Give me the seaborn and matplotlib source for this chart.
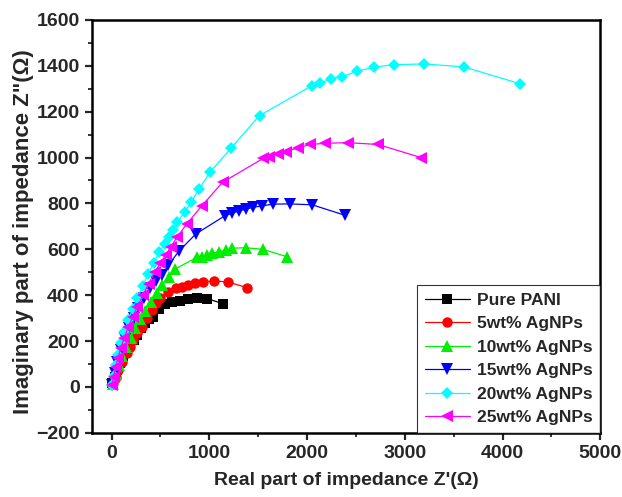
import matplotlib
matplotlib.use("Agg")
import matplotlib.pyplot as plt
import seaborn as sns
from matplotlib.ticker import MultipleLocator

sns.set_style("ticks")
plt.rcParams['font.family'] = ['Liberation Sans', 'DejaVu Sans']
plt.rcParams['font.weight'] = 'bold'

labels = ["Pure PANI", "5wt% AgNPs", "10wt% AgNPs", "15wt% AgNPs", "20wt% AgNPs", "25wt% AgNPs"]

pani_x = [2, 30, 53, 85, 121, 155, 189, 225, 264, 300, 343, 380, 422, 480, 548, 616, 701, 786, 872, 981, 1145]
pani_y = [16, 45, 74, 105, 132, 158, 183, 205, 227, 255, 280, 295, 307, 340, 361, 369, 375, 382, 387, 385, 362]

ag5_x = [18, 45, 70, 110, 156, 190, 223, 265, 309, 360, 412, 455, 497, 580, 661, 719, 786, 855, 940, 1050, 1190, 1384]
ag5_y = [16, 45, 74, 110, 147, 175, 205, 235, 263, 300, 336, 365, 389, 415, 430, 437, 445, 452, 459, 462, 458, 433]

ag10_x = [10, 40, 75, 110, 150, 195, 240, 290, 340, 400, 460, 520, 585, 650, 872, 924, 981, 1032, 1104, 1169, 1237, 1374, 1545, 1794]
ag10_y = [15, 55, 95, 135, 175, 215, 255, 295, 330, 370, 410, 445, 480, 514, 565, 568, 576, 583, 590, 597, 605, 607, 600, 568]

ag15_x = [5, 30, 60, 95, 135, 180, 225, 275, 330, 390, 450, 514, 582, 691, 862, 1162, 1231, 1299, 1374, 1446, 1534, 1650, 1828, 2053, 2384]
ag15_y = [10, 60, 110, 160, 210, 255, 300, 345, 390, 430, 460, 488, 532, 593, 667, 747, 757, 767, 775, 783, 789, 797, 798, 794, 749]

ag20_x = [5, 20, 40, 65, 95, 130, 170, 215, 265, 320, 370, 430, 490, 545, 589, 627, 674, 749, 811, 896, 1009, 1220, 1514, 2053, 2135, 2248, 2360, 2514, 2688, 2893, 3200, 3606, 4183]
ag20_y = [10, 50, 95, 140, 190, 240, 290, 340, 390, 440, 491, 540, 590, 625, 653, 685, 721, 762, 805, 863, 937, 1040, 1183, 1314, 1324, 1344, 1353, 1376, 1394, 1405, 1408, 1395, 1321]

ag25_x = [5, 20, 40, 65, 95, 130, 170, 215, 265, 320, 380, 445, 497, 555, 606, 674, 770, 924, 1135, 1554, 1613, 1698, 1780, 1903, 2033, 2186, 2415, 2726, 3166]
ag25_y = [10, 45, 85, 125, 170, 215, 260, 305, 350, 400, 450, 503, 539, 576, 612, 655, 711, 790, 892, 997, 1003, 1016, 1026, 1042, 1057, 1062, 1065, 1057, 1000]

series_x = [pani_x, ag5_x, ag10_x, ag15_x, ag20_x, ag25_x]
series_y = [pani_y, ag5_y, ag10_y, ag15_y, ag20_y, ag25_y]
colors = ["#000000", "#ff0000", "#00ee00", "#0000ff", "#00ffff", "#ff00ff"]
markers = ["s", "o", "^", "v", "D", "<"]
msizes = [6.5, 7.5, 8, 8, 6.5, 8]

fig = plt.figure(figsize=(6.22, 4.97), dpi=100)
ax = fig.add_axes([0.148, 0.129, 0.817, 0.831])

for xs, ys, c, m, ms, lab in zip(series_x, series_y, colors, markers, msizes, labels):
    sns.lineplot(x=xs, y=ys, sort=False, estimator=None, ax=ax, color=c,
                 marker=m, markersize=ms, markeredgewidth=0, linewidth=0.9,
                 label=lab)

ax.set_xlim(-200, 5000)
ax.set_ylim(-200, 1600)
ax.xaxis.set_major_locator(MultipleLocator(1000))
ax.xaxis.set_minor_locator(MultipleLocator(500))
ax.yaxis.set_major_locator(MultipleLocator(200))
ax.yaxis.set_minor_locator(MultipleLocator(100))
ax.tick_params(which='major', direction='out', length=5, width=1.6, labelsize=14, pad=4)
ax.tick_params(which='minor', direction='out', length=3, width=1.3)
for lab in ax.get_xticklabels() + ax.get_yticklabels():
    lab.set_fontweight('bold')
for s in ax.spines.values():
    s.set_linewidth(1.8)
    s.set_color('black')

ax.set_xlabel("Real part of impedance Z'(Ω)", fontsize=14, fontweight='bold', labelpad=7)
ax.set_ylabel('Imaginary part of impedance Z"(Ω)', fontsize=16, fontweight='bold')
ax.yaxis.set_label_coords(-0.114, 0.487)

leg = ax.legend(loc='lower right', borderaxespad=0, fancybox=False, frameon=True,
                prop={'weight': 'bold', 'size': 12.5}, handlelength=2.6,
                handletextpad=0.4, labelspacing=0.48, borderpad=0.45)
leg.get_frame().set_edgecolor('black')
leg.get_frame().set_linewidth(0.8)

fig.savefig("out.png", dpi=100)
